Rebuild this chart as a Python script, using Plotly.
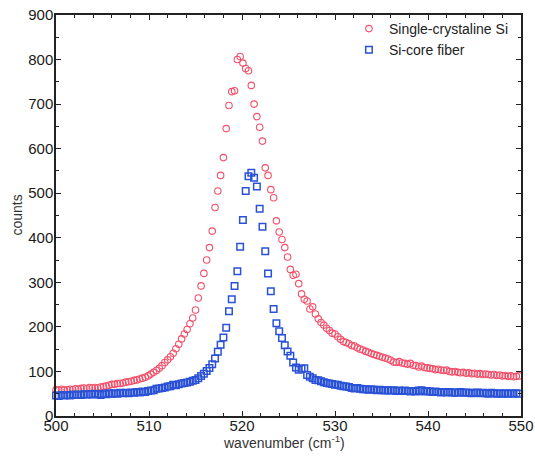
import plotly.graph_objects as go

wavenumber = [
    500.0, 500.3, 500.6, 500.9, 501.2, 501.5, 501.8, 502.1, 502.4, 502.7,
    503.0, 503.3, 503.6, 503.9, 504.2, 504.5, 504.8, 505.1, 505.4, 505.7,
    506.0, 506.3, 506.6, 506.9, 507.2, 507.5, 507.8, 508.1, 508.4, 508.7,
    509.0, 509.3, 509.6, 509.9, 510.2, 510.5, 510.8, 511.1, 511.4, 511.7,
    512.0, 512.3, 512.6, 512.9, 513.2, 513.5, 513.8, 514.1, 514.4, 514.7,
    515.0, 515.3, 515.6, 515.9, 516.2, 516.5, 516.8, 517.1, 517.4, 517.7,
    518.0, 518.3, 518.6, 518.9, 519.2, 519.5, 519.8, 520.1, 520.4, 520.7,
    521.0, 521.3, 521.6, 521.9, 522.2, 522.5, 522.8, 523.1, 523.4, 523.7,
    524.0, 524.3, 524.6, 524.9, 525.2, 525.5, 525.8, 526.1, 526.4, 526.7,
    527.0, 527.3, 527.6, 527.9, 528.2, 528.5, 528.8, 529.1, 529.4, 529.7,
    530.0, 530.3, 530.6, 530.9, 531.2, 531.5, 531.8, 532.1, 532.4, 532.7,
    533.0, 533.3, 533.6, 533.9, 534.2, 534.5, 534.8, 535.1, 535.4, 535.7,
    536.0, 536.3, 536.6, 536.9, 537.2, 537.5, 537.8, 538.1, 538.4, 538.7,
    539.0, 539.3, 539.6, 539.9, 540.2, 540.5, 540.8, 541.1, 541.4, 541.7,
    542.0, 542.3, 542.6, 542.9, 543.2, 543.5, 543.8, 544.1, 544.4, 544.7,
    545.0, 545.3, 545.6, 545.9, 546.2, 546.5, 546.8, 547.1, 547.4, 547.7,
    548.0, 548.3, 548.6, 548.9, 549.2, 549.5, 549.8,
]

single_crystal_si = [
    59, 58, 60, 58, 59, 60, 59, 61, 60, 62,
    63, 61, 64, 63, 64, 63, 65, 66, 67, 69,
    71, 71, 73, 73, 74, 76, 77, 78, 80, 81,
    83, 85, 87, 90, 94, 98, 102, 107, 113, 120,
    126, 133, 141, 151, 161, 173, 184, 194, 207, 220,
    238, 265, 292, 320, 350, 378, 415, 468, 505, 540,
    580, 645, 697, 728, 730, 800, 807, 792, 780, 775,
    742, 700, 672, 648, 617, 557, 540, 508, 490, 438,
    413, 396, 378, 357, 329, 316, 318, 297, 274, 262,
    258, 240, 245, 229, 218, 210, 204, 197, 192, 186,
    184, 178, 172, 167, 165, 162, 158, 157, 153, 150,
    148, 145, 143, 140, 138, 136, 134, 132, 130, 128,
    125, 121, 120, 122, 119, 118, 116, 118, 114, 113,
    110, 112, 109, 108, 107, 106, 104, 105, 103, 102,
    103, 100, 99, 100, 98, 97, 98, 96, 97, 95,
    96, 94, 95, 93, 94, 93, 92, 93, 91, 92,
    90, 91, 89, 90, 88, 89, 90,
]

si_core_fiber = [
    46, 45, 47, 46, 47, 46, 48, 47, 48, 47,
    49, 48, 49, 48, 50, 49, 47, 50, 49, 51,
    50, 51, 50, 52, 51, 52, 51, 53, 52, 54,
    53, 55, 54, 56, 57, 58, 61, 62, 63, 64,
    66, 67, 70, 69, 71, 73, 74, 75, 77, 79,
    81, 85, 90, 95, 101, 108, 116, 129, 144, 160,
    176, 198, 235, 262, 292, 325, 380, 440, 505, 538,
    546, 535, 515, 465, 425, 370, 320, 280, 240, 208,
    190, 175, 159, 145, 135, 120, 109, 104, 106, 107,
    92, 88, 85, 81, 80, 78, 76, 74, 73, 72,
    70, 70, 68, 67, 66, 65, 63, 62, 63, 61,
    60, 60, 59, 60, 59, 58, 59, 58, 57, 58,
    57, 58, 56, 57, 56, 57, 56, 55, 56, 55,
    57, 58, 55, 56, 55, 54, 55, 54, 53, 54,
    53, 54, 53, 52, 53, 54, 52, 53, 52, 51,
    52, 53, 51, 52, 51, 50, 52, 51, 50, 51,
    50, 51, 50, 51, 50, 51, 50,
]

x_title = "wavenumber (cm<sup>-1</sup>)"
y_title = "counts"

FONT = "Liberation Sans, Arial, sans-serif"

fig = go.Figure()
fig.add_trace(go.Scatter(
    x=wavenumber, y=single_crystal_si, mode="markers",
    name="Single-crystaline Si",
    marker=dict(symbol="circle-open", size=6.5, color="#f2506a",
                line=dict(width=1.1, color="#f2506a")),
    cliponaxis=False,
))
fig.add_trace(go.Scatter(
    x=wavenumber, y=si_core_fiber, mode="markers",
    name="Si-core fiber",
    marker=dict(symbol="square-open", size=6.5, color="#2a52d6",
                line=dict(width=1.5, color="#2a52d6")),
    cliponaxis=False,
))

axis_common = dict(
    showline=True, linecolor="#222", linewidth=1.5, mirror="allticks",
    ticks="inside", ticklen=5, tickwidth=1.3, tickcolor="#222",
    showgrid=False, zeroline=False, automargin=False,
    tickfont=dict(family=FONT, size=15, color="#1a1a1a"),
)

fig.update_xaxes(
    range=[500, 550], dtick=10, tick0=500, ticklabelstandoff=-5,
    minor=dict(ticks="inside", dtick=2, ticklen=3, tickcolor="#222", tickwidth=1.2),
    **axis_common,
)
fig.update_yaxes(
    range=[0, 900], dtick=100, tick0=0, ticklabelstandoff=-2,
    minor=dict(ticks="inside", dtick=50, ticklen=3, tickcolor="#222", tickwidth=1.2),
    **axis_common,
)

fig.add_annotation(text=x_title, xref="paper", yref="paper", x=0.49, y=0, yshift=-26,
                   xanchor="center", yanchor="middle", showarrow=False,
                   font=dict(family=FONT, size=14, color="#333"))
fig.add_annotation(text=y_title, xref="paper", yref="paper", x=0, xshift=-40, y=0.5,
                   xanchor="center", yanchor="middle", showarrow=False, textangle=-90,
                   font=dict(family=FONT, size=14, color="#333"))

fig.update_layout(
    width=535, height=460,
    margin=dict(l=56, r=14, t=15, b=44),
    paper_bgcolor="white", plot_bgcolor="white",
    font=dict(family=FONT, size=13, color="#222"),
    showlegend=True,
    legend=dict(x=0.63, y=1.005, xanchor="left", yanchor="top",
                bgcolor="rgba(0,0,0,0)", font=dict(family=FONT, size=14, color="#222"),
                itemsizing="trace", tracegroupgap=0),
)

fig.write_html("out.html", config={"displayModeBar": False},
               post_script="document.body.style.margin='0';document.body.style.overflow='hidden';")
